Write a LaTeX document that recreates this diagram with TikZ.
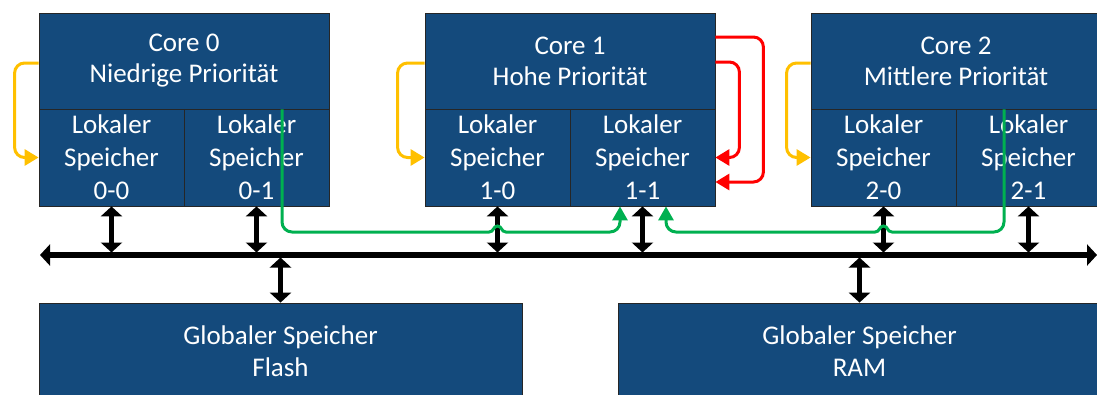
\documentclass[tikz,border=0pt]{standalone}
\usepackage{fontspec}
\setmainfont{Carlito}
\usetikzlibrary{arrows.meta,calc}
\definecolor{coreblue}{RGB}{20,74,124}
\definecolor{ylw}{RGB}{255,192,0}
\definecolor{rd}{RGB}{255,0,0}
\definecolor{grn}{RGB}{0,176,80}

\begin{document}
\begin{tikzpicture}[x=1pt,y=-1pt,
  blk/.style={draw=black!85, line width=0.8pt, fill=coreblue, text=white,
    inner sep=0pt, align=center},
  head/.style={blk, minimum width=290pt, minimum height=96pt,
    font=\fontsize{27}{31}\selectfont},
  mem/.style={blk, minimum width=145pt, minimum height=97pt,
    font=\fontsize{27}{33}\selectfont},
  glob/.style={blk, minimum width=483pt, minimum height=96pt,
    font=\fontsize{27}{32}\selectfont},
  bus/.style={line width=5.5pt,
    {Triangle[width=21pt,length=10pt]}-{Triangle[width=21pt,length=10pt]}},
  link/.style={line width=5pt,
    {Triangle[width=21pt,length=10pt]}-{Triangle[width=21pt,length=10pt]}},
  loopline/.style={line width=3pt, rounded corners=10pt,
    -{Triangle[width=16pt,length=14pt]}},
  yloop/.style={loopline, draw=ylw},
  rloop/.style={loopline, draw=rd},
  gpath/.style={line width=3pt, draw=grn, -{Triangle[width=15pt,length=14pt]}},
]
\clip (0,0) rectangle (1097,394);

% cores with their local memories
\node[head] (h0) at (184,61) {Core 0\\Niedrige Priorität};
\node[mem]  (s00) at (111.5,157.5) {Lokaler\\Speicher\\0-0};
\node[mem]  (s01) at (256.5,157.5) {Lokaler\\Speicher\\0-1};

\node[head] (h1) at (570,61) {Core 1\\Hohe Priorität};
\node[mem]  (s10) at (497.5,157.5) {Lokaler\\Speicher\\1-0};
\node[mem]  (s11) at (642.5,157.5) {Lokaler\\Speicher\\1-1};

\node[head] (h2) at (956,61) {Core 2\\Mittlere Priorität};
\node[mem]  (s20) at (883.5,157.5) {Lokaler\\Speicher\\2-0};
\node[mem]  (s21) at (1028.5,157.5) {Lokaler\\Speicher\\2-1};

% global memories
\node[glob] (flash) at (280.5,351) {Globaler Speicher\\Flash};
\node[glob] (ram)   at (859.5,351) {Globaler Speicher\\RAM};

% system bus
\coordinate (busL) at (40,255);
\coordinate (busR) at (1097,255);
\draw[bus] (busL) -- (busR);

% local memories <-> bus
\foreach \m in {s00,s01,s10,s11,s20,s21}
  \draw[link, shorten >=2.5pt] (\m.south) -- (\m.south |- busL);

% bus <-> global memories
\draw[link, shorten >=2.5pt] (flash.north) -- (flash.north |- busL);
\draw[link, shorten >=2.5pt] (ram.north) -- (ram.north |- busL);

% each core uses its own first local memory
\draw[yloop] ($(h0.west)+(0,2)$) -- ++(-24,0) |- (s00.west);
\draw[yloop] ($(h1.west)+(0,2)$) -- ++(-27,0) |- (s10.west);
\draw[yloop] ($(h2.west)+(0,2)$) -- ++(-24,0) |- (s20.west);

% high priority core uses both of its memories
\draw[rloop] ($(h1.east)+(0,-24)$) -- ++(48,0) |- ($(s11.east)+(0,24.5)$);
\draw[rloop] ($(h1.east)+(0,1)$) -- ++(24,0) |- (s11.east);

% cores 0 and 2 access local memory 1-1, hopping over the bus links
\draw[gpath] ($(h0.south)+(98,0)$) -- (282,222)
  arc[start angle=180, end angle=270, radius=10pt]
  -- (489,232) .. controls (494,232) and (493,226) .. (497.5,226)
  .. controls (502,226) and (501,232) .. (506,232)
  -- (610,232) arc[start angle=270, end angle=360, radius=10pt]
  -- ($(s11.south)+(-22.5,0)$);
\draw[gpath] ($(h2.south)+(48,0)$) -- (1004,222)
  arc[start angle=0, end angle=-90, radius=10pt]
  -- (892,232) .. controls (887,232) and (888,226) .. (883.5,226)
  .. controls (879,226) and (880,232) .. (875,232)
  -- (676,232) arc[start angle=270, end angle=180, radius=10pt]
  -- ($(s11.south)+(23.5,0)$);
\end{tikzpicture}
\end{document}
